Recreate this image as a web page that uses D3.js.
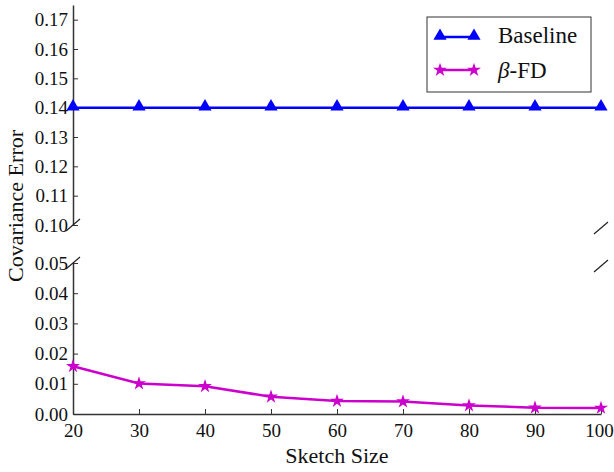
<!DOCTYPE html>
<html><head><meta charset="utf-8">
<script src="https://cdn.jsdelivr.net/npm/d3@7"></script>
<style>body{margin:0;background:#fff}text{font-family:"Liberation Serif","DejaVu Serif",serif}</style>
</head><body><svg id="c" width="614" height="472"></svg>
<script>
const sketchSizes = [20, 30, 40, 50, 60, 70, 80, 90, 100];
const baseline = [0.14, 0.14, 0.14, 0.14, 0.14, 0.14, 0.14, 0.14, 0.14];
const betaFD = [0.0158, 0.0101, 0.0092, 0.0057, 0.0043, 0.0041, 0.0028, 0.0021, 0.0020];
const topTicks = [0.10, 0.11, 0.12, 0.13, 0.14, 0.15, 0.16, 0.17];
const bottomTicks = [0.00, 0.01, 0.02, 0.03, 0.04, 0.05];
const xTicks = [20, 30, 40, 50, 60, 70, 80, 90, 100];

const svg = d3.select("#c");
const x = d3.scaleLinear().domain([20, 100]).range([73, 601]);
const yTop = d3.scaleLinear().domain([0.10, 0.175]).range([225, 5]);
const yBot = d3.scaleLinear().domain([0, 0.05]).range([414, 263]);
const fs = 19;

const gTop = svg.append("g").attr("transform", "translate(73,0)")
  .call(d3.axisLeft(yTop).tickValues(topTicks).tickFormat(d3.format(".2f")).tickSizeInner(-5).tickSizeOuter(0).tickPadding(5));
const gBot = svg.append("g").attr("transform", "translate(73,0)")
  .call(d3.axisLeft(yBot).tickValues(bottomTicks).tickFormat(d3.format(".2f")).tickSizeInner(-5).tickSizeOuter(0).tickPadding(5));
const gX = svg.append("g").attr("transform", "translate(0,414)")
  .call(d3.axisBottom(x).tickValues(xTicks).tickSizeInner(-5).tickSizeOuter(0).tickPadding(7));
[gTop, gBot, gX].forEach(g => {
  g.selectAll("path.domain").attr("stroke", "#333").attr("stroke-width", 1.5);
  g.selectAll(".tick line").attr("stroke", "#333").attr("stroke-width", 1);
  g.selectAll("text").attr("font-size", fs).attr("fill", "#111").attr("font-family", "Liberation Serif");
});
gX.selectAll("text").attr("dy", "0.85em").attr("dx", d => d === 100 ? -2 : 0);

function brk(cx, cy) {
  svg.append("line").attr("x1", cx - 7).attr("y1", cy + 6).attr("x2", cx + 7).attr("y2", cy - 6)
    .attr("stroke", "#222").attr("stroke-width", 1.2);
}
brk(x(20), yTop(0.10)); brk(x(20), yBot(0.05));
brk(x(100), yTop(0.10) + 3); brk(x(100), yBot(0.05) + 3);

const tri = d3.symbol().type(d3.symbolTriangle).size(75);
const star = d3.symbol().type(d3.symbolStar).size(60);

svg.append("path").datum(baseline)
  .attr("d", d3.line().x((d, i) => x(sketchSizes[i])).y(d => yTop(d)))
  .attr("fill", "none").attr("stroke", "#0000ff").attr("stroke-width", 2.5);
svg.selectAll(".tri").data(baseline).enter().append("path")
  .attr("d", tri).attr("transform", (d, i) => `translate(${x(sketchSizes[i])},${yTop(d) - 1})`)
  .attr("fill", "#0000ff");

svg.append("path").datum(betaFD)
  .attr("d", d3.line().x((d, i) => x(sketchSizes[i])).y(d => yBot(d)))
  .attr("fill", "none").attr("stroke", "#cc00cc").attr("stroke-width", 2.5);
svg.selectAll(".star").data(betaFD).enter().append("path")
  .attr("d", star).attr("transform", (d, i) => `translate(${x(sketchSizes[i])},${yBot(d)})`)
  .attr("fill", "#cc00cc");

svg.append("text").attr("x", 337).attr("y", 463).attr("text-anchor", "middle")
  .attr("font-size", 22).attr("fill", "#111").text("Sketch Size");
svg.append("text").attr("transform", "translate(23,206) rotate(-90)").attr("text-anchor", "middle")
  .attr("font-size", 22).attr("fill", "#111").text("Covariance Error");

const lg = svg.append("g");
lg.append("rect").attr("x", 427).attr("y", 17).attr("width", 164).attr("height", 75)
  .attr("fill", "#fff").attr("stroke", "#333").attr("stroke-width", 1);
lg.append("line").attr("x1", 440).attr("x2", 474).attr("y1", 37).attr("y2", 37)
  .attr("stroke", "#0000ff").attr("stroke-width", 2.5);
[440, 474].forEach(px => lg.append("path").attr("d", tri).attr("transform", `translate(${px},36)`).attr("fill", "#0000ff"));
lg.append("line").attr("x1", 440).attr("x2", 474).attr("y1", 70).attr("y2", 70)
  .attr("stroke", "#cc00cc").attr("stroke-width", 2.5);
[440, 474].forEach(px => lg.append("path").attr("d", star).attr("transform", `translate(${px},70)`).attr("fill", "#cc00cc"));
lg.append("text").attr("x", 498).attr("y", 43).attr("font-size", 23).attr("fill", "#111").text("Baseline");
const t2 = lg.append("text").attr("x", 498).attr("y", 78).attr("font-size", 23).attr("fill", "#111");
t2.append("tspan").attr("font-style", "italic").text("β");
t2.append("tspan").text("-FD");
</script></body></html>
